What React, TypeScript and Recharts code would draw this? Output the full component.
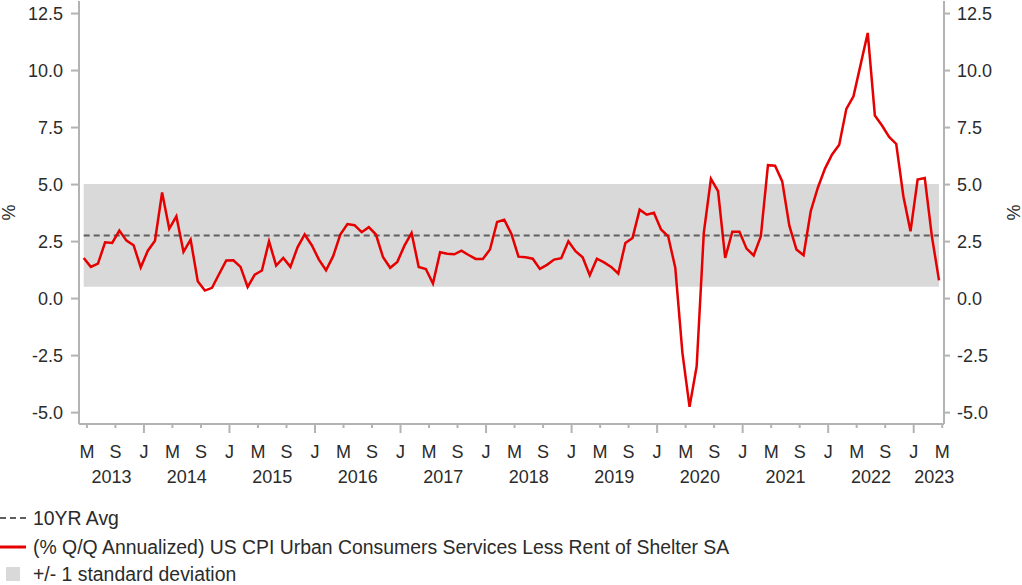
import { LineChart, Line, XAxis, YAxis, ReferenceArea, ReferenceLine, Label } from "recharts";

// monthly series, May 2013 .. May 2023
const START_YEAR = 2013;
const START_MONTH = 4; // 0-based, May
const MONTH_LETTERS = ["J", "F", "M", "A", "M", "J", "J", "A", "S", "O", "N", "D"];
const YEARS = [2013, 2014, 2015, 2016, 2017, 2018, 2019, 2020, 2021, 2022, 2023];
const Y_TICKS = [-5, -2.5, 0, 2.5, 5, 7.5, 10, 12.5];

const CPI_SERVICES = [
  1.78, 1.39, 1.53, 2.47, 2.44, 2.98, 2.54, 2.34, 1.37, 2.1, 2.54, 4.65,
  3.06, 3.61, 2.05, 2.59, 0.76, 0.35, 0.47, 1.08, 1.67, 1.68, 1.39, 0.51,
  1.05, 1.23, 2.51, 1.45, 1.78, 1.39, 2.25, 2.81, 2.34, 1.71, 1.24, 1.86,
  2.81, 3.27, 3.22, 2.91, 3.13, 2.81, 1.81, 1.35, 1.61, 2.32, 2.88, 1.39,
  1.3, 0.66, 2.03, 1.97, 1.94, 2.1, 1.91, 1.74, 1.74, 2.15, 3.36, 3.46,
  2.84, 1.84, 1.81, 1.75, 1.3, 1.48, 1.71, 1.77, 2.51, 2.08, 1.81, 1.02,
  1.75, 1.59, 1.39, 1.1, 2.44, 2.66, 3.9, 3.68, 3.76, 3.03, 2.73, 1.35,
  -2.38, -4.75, -2.97, 2.88, 5.25, 4.71, 1.78, 2.93, 2.93, 2.19, 1.89, 2.73,
  5.85, 5.83, 5.14, 3.2, 2.15, 1.9, 3.83, 4.86, 5.7, 6.32, 6.75, 8.32,
  8.87, 10.26, 11.65, 8.03, 7.59, 7.09, 6.78, 4.49, 2.95, 5.22, 5.29, 2.73,
  0.8,
];

const AVG_10YR = 2.77;
const STD_DEV = 2.25;

const AXIS = "#b3b3b3";
const TEXT = "#2b2b2b";
const FONT = "'Liberation Sans', Arial, sans-serif";

const data = CPI_SERVICES.map((v, i) => ({ i, v }));
const LAST = data.length - 1;
const X_DOMAIN: [number, number] = [-0.66, LAST + 0.7];
const SHIFT = 0.45; // ticks sit a little right of the points

const monthTicks = data.filter((d) => d.i % 4 === 0).map((d) => d.i + SHIFT);
const yearTicks = YEARS.map((y) => {
  const jan = (y - START_YEAR) * 12 - START_MONTH + SHIFT;
  const a = Math.max(jan, X_DOMAIN[0]);
  const b = Math.min(jan + 12, X_DOMAIN[1] + 1.5);
  return (a + b) / 2;
});

const MonthTick = (props: any) => {
  const { x, y, payload } = props;
  const idx = Math.round(payload.value - SHIFT);
  const m = (START_MONTH + idx) % 12;
  const len = m === 0 ? 9 : 4;
  return (
    <g>
      <line x1={x} x2={x} y1={y} y2={y + len} stroke={AXIS} strokeWidth={2} />
      <text x={x} y={y + 28} textAnchor="middle" dominantBaseline="central" fill={TEXT} fontSize={18} fontFamily={FONT}>
        {MONTH_LETTERS[m]}
      </text>
    </g>
  );
};

const YearTick = (props: any) => {
  const { x, y, index } = props;
  return (
    <text x={x} y={y + 23} textAnchor="middle" dominantBaseline="central" fill={TEXT} fontSize={18} fontFamily={FONT}>
      {YEARS[index]}
    </text>
  );
};

const pctTitle = (side: "left" | "right") => (p: any) => {
  const vb = p.viewBox || {};
  const cy = vb.height ? vb.y + vb.height / 2 : 212;
  const cx = side === "left" ? 9 : 1013;
  return (
    <text
      x={cx}
      y={cy}
      transform={`rotate(${side === "left" ? -90 : 90}, ${cx}, ${cy})`}
      textAnchor="middle"
      dominantBaseline="central"
      fill={TEXT}
      fontSize={18}
      fontFamily={FONT}
    >
      %
    </text>
  );
};

const legendRow: React.CSSProperties = {
  position: "absolute",
  left: 0,
  height: 22,
  display: "flex",
  alignItems: "center",
  fontSize: 19.4,
  lineHeight: "22px",
  color: TEXT,
  whiteSpace: "nowrap",
};

export default function App() {
  const fmt = (v: number) => v.toFixed(1);
  return (
    <div style={{ position: "absolute", left: 0, top: 0, width: 1022, height: 585, fontFamily: FONT, background: "#fff" }}>
      <LineChart width={1022} height={490} data={data} margin={{ top: 1, right: 0, bottom: 0, left: 0 }}>
        <XAxis
          xAxisId="m"
          dataKey="i"
          type="number"
          domain={X_DOMAIN}
          allowDataOverflow
          ticks={monthTicks}
          interval={0}
          tickSize={0}
          tickMargin={0}
          tickLine={false}
          axisLine={{ stroke: AXIS, strokeWidth: 2 }}
          height={30}
          tick={<MonthTick />}
        />
        <XAxis
          xAxisId="y"
          dataKey="i"
          type="number"
          domain={X_DOMAIN}
          allowDataOverflow
          ticks={yearTicks}
          interval={0}
          tickSize={0}
          tickMargin={0}
          tickLine={false}
          axisLine={false}
          height={36}
          tick={<YearTick />}
        />
        <YAxis
          yAxisId="l"
          orientation="left"
          width={79}
          domain={[-5.5, 13.05]}
          allowDataOverflow
          ticks={Y_TICKS}
          interval={0}
          tickFormatter={fmt}
          tickSize={8}
          tickMargin={8}
          axisLine={{ stroke: AXIS, strokeWidth: 2 }}
          tickLine={{ stroke: AXIS, strokeWidth: 2 }}
          tick={{ fill: TEXT, fontSize: 18, fontFamily: FONT }}
        >
          <Label content={pctTitle("left")} />
        </YAxis>
        <YAxis
          yAxisId="r"
          orientation="right"
          width={78}
          domain={[-5.5, 13.05]}
          allowDataOverflow
          ticks={Y_TICKS}
          interval={0}
          tickFormatter={fmt}
          tickSize={6}
          tickMargin={7}
          axisLine={{ stroke: AXIS, strokeWidth: 2 }}
          tickLine={{ stroke: AXIS, strokeWidth: 2 }}
          tick={{ fill: TEXT, fontSize: 18, fontFamily: FONT, textAnchor: "start" }}
        >
          <Label content={pctTitle("right")} />
        </YAxis>
        <ReferenceArea
          xAxisId="m"
          yAxisId="l"
          x1={0}
          x2={LAST}
          y1={AVG_10YR - STD_DEV}
          y2={AVG_10YR + STD_DEV}
          fill="#d9d9d9"
          fillOpacity={1}
          stroke="none"
        />
        <ReferenceLine
          xAxisId="m"
          yAxisId="l"
          segment={[
            { x: 0, y: AVG_10YR },
            { x: LAST, y: AVG_10YR },
          ]}
          stroke="#5f5f5f"
          strokeWidth={2}
          strokeDasharray="6 4"
        />
        <Line
          xAxisId="m"
          yAxisId="l"
          dataKey="v"
          type="linear"
          stroke="#e60000"
          strokeWidth={2.5}
          dot={false}
          isAnimationActive={false}
        />
      </LineChart>

      <div style={{ ...legendRow, top: 507 }}>
        <svg width={26} height={4} style={{ marginRight: 7 }}>
          <line x1={0} x2={26} y1={2} y2={2} stroke="#5f5f5f" strokeWidth={2} strokeDasharray="6 4" />
        </svg>
        10YR Avg
      </div>
      <div style={{ ...legendRow, top: 536 }}>
        <svg width={26} height={4} style={{ marginRight: 7 }}>
          <line x1={0} x2={26} y1={2} y2={2} stroke="#e60000" strokeWidth={3} />
        </svg>
        (% Q/Q Annualized) US CPI Urban Consumers Services Less Rent of Shelter SA
      </div>
      <div style={{ ...legendRow, top: 563 }}>
        <svg width={33} height={14}>
          <rect x={6} y={0} width={14} height={14} fill="#d9d9d9" />
        </svg>
        +/- 1 standard deviation
      </div>
    </div>
  );
}
